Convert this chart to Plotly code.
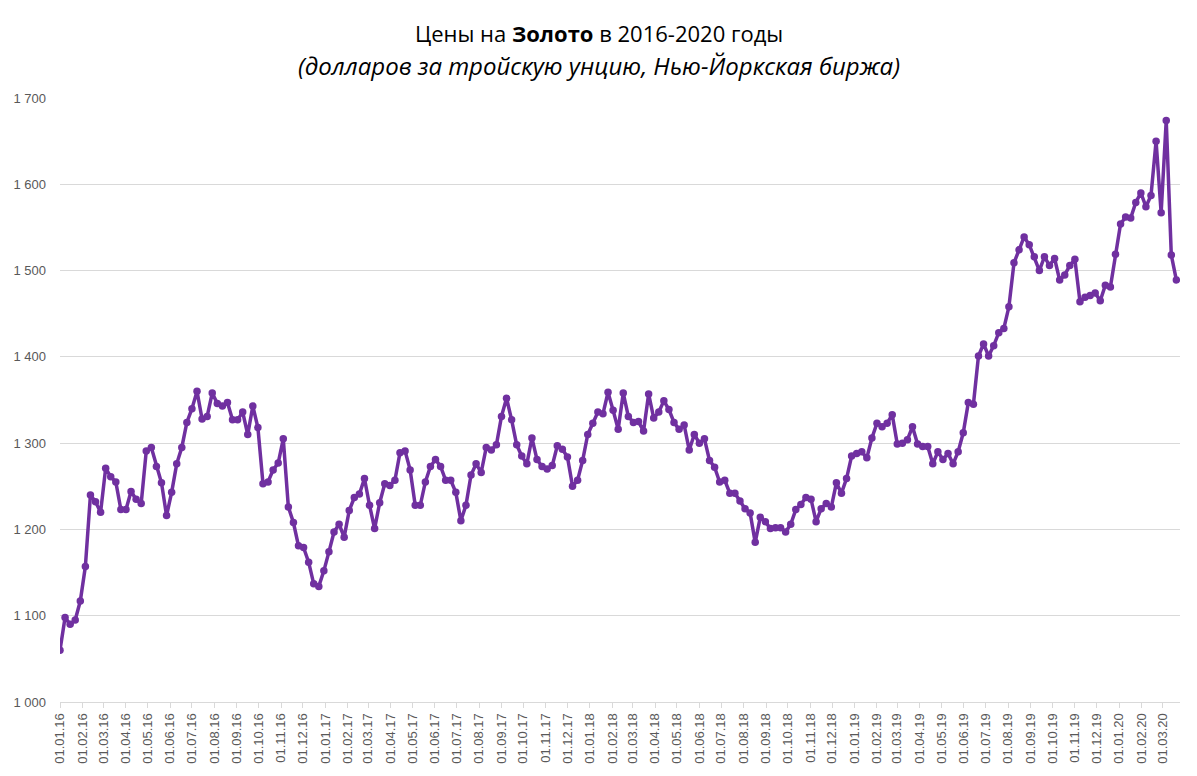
import pandas as pd
import plotly.graph_objects as go

start_date = "2016-01-01"
prices = [
    1060, 1098, 1090, 1095, 1117, 1157, 1240, 1232, 1220, 1271,
    1261, 1255, 1223, 1223, 1244, 1235, 1230, 1291, 1295, 1273,
    1254, 1216, 1243, 1276, 1295, 1324, 1340, 1360, 1328, 1331,
    1358, 1346, 1343, 1347, 1327, 1327, 1336, 1310, 1343, 1318,
    1253, 1255, 1269, 1277, 1305, 1226, 1208, 1181, 1179, 1162,
    1137, 1134, 1152, 1174, 1197, 1206, 1191, 1222, 1237, 1241,
    1259, 1228, 1201, 1231, 1253, 1251, 1257, 1289, 1291, 1269,
    1228, 1228, 1255, 1273, 1281, 1273, 1257, 1257, 1243, 1210,
    1228, 1263, 1276, 1266, 1295, 1292, 1298, 1331, 1352, 1327,
    1298, 1285, 1276, 1306, 1281, 1273, 1270, 1274, 1297, 1293,
    1284, 1250, 1257, 1280, 1310, 1323, 1336, 1334, 1359, 1338,
    1316, 1358, 1331, 1324, 1325, 1314, 1357, 1329, 1336, 1349,
    1339, 1324, 1316, 1321, 1292, 1310, 1300, 1305, 1280, 1272,
    1255, 1257, 1242, 1242, 1233, 1224, 1219, 1185, 1214, 1209,
    1201, 1202, 1202, 1197, 1206, 1223, 1229, 1237, 1235, 1209,
    1224, 1230, 1226, 1254, 1242, 1259, 1285, 1288, 1290, 1283,
    1306, 1323, 1319, 1323, 1333, 1299, 1300, 1304, 1319, 1299,
    1296, 1296, 1276, 1290, 1281, 1288, 1276, 1290, 1312, 1347,
    1345, 1401, 1415, 1401, 1413, 1428, 1433, 1458, 1509, 1524,
    1539, 1530, 1516, 1500, 1516, 1506, 1514, 1489, 1495, 1506,
    1513, 1464, 1469, 1471, 1474, 1465, 1483, 1481, 1519, 1554,
    1562, 1561, 1579, 1590, 1574, 1587, 1650, 1567, 1674, 1518,
    1489,
]
dates = pd.date_range(start=start_date, periods=len(prices), freq="7D")

y_ticks = [1000, 1100, 1200, 1300, 1400, 1500, 1600, 1700]
title_line1 = "Цены на <b>Золото</b> в 2016-2020 годы"
title_line2 = "<i>(долларов за тройскую унцию, Нью-Йоркская биржа)</i>"

color = "#7030A0"

# page has an 8px body margin; compensate so the plot area lands at
# x 60..1180, y 98..702 in the 1197x776 window
OFF = 8
W, H = 1197 - OFF, 776 - OFF
L, R, T, B = 60 - OFF, 17, 98 - OFF, 74
plot_w = W - L - R
plot_h = H - T - B

def paper_x(page_px):
    return (page_px - OFF - L) / plot_w

def paper_y(page_py):
    return 1 + (T - (page_py - OFF)) / plot_h

fig = go.Figure()
fig.add_trace(go.Scatter(
    x=dates, y=prices, mode="lines+markers",
    line=dict(color=color, width=3.5),
    marker=dict(color=color, size=7.5),
    hoverinfo="x+y",
))

fig.update_layout(
    width=W, height=H,
    margin=dict(l=L, r=R, t=T, b=B, autoexpand=False),
    paper_bgcolor="white", plot_bgcolor="white",
    showlegend=False,
    separators=", ",
    font=dict(family="Liberation Sans, Arial", color="#595959"),
    annotations=[
        dict(text=title_line1, x=paper_x(598.5), xref="paper", xanchor="center",
             y=paper_y(33), yref="paper", yanchor="middle",
             showarrow=False, font=dict(family="Open Sans", size=22, color="#000000")),
        dict(text=title_line2, x=paper_x(598.5), xref="paper", xanchor="center",
             y=paper_y(65), yref="paper", yanchor="middle",
             showarrow=False, font=dict(family="Open Sans", size=24, color="#000000")),
    ],
)

fig.update_xaxes(
    type="date",
    range=["2016-01-01", "2020-03-25"],
    tick0="2016-01-01", dtick="M1",
    tickformat="%d.%m.%y",
    tickangle=-90,
    tickfont=dict(size=13, color="#595959"),
    showgrid=False,
    showline=True, linecolor="#d9d9d9", linewidth=1,
    ticks="outside", ticklen=5, tickcolor="#d9d9d9",
    zeroline=False, automargin=False,
)
fig.update_yaxes(
    range=[1000, 1700],
    tickvals=y_ticks,
    tickformat=",d",
    tickfont=dict(size=13, color="#595959"),
    showgrid=True, gridcolor="#d9d9d9", gridwidth=1,
    zeroline=False, showline=False,
    ticks="", ticklabelstandoff=13, automargin=False,
)

fig.write_html("out.html")
